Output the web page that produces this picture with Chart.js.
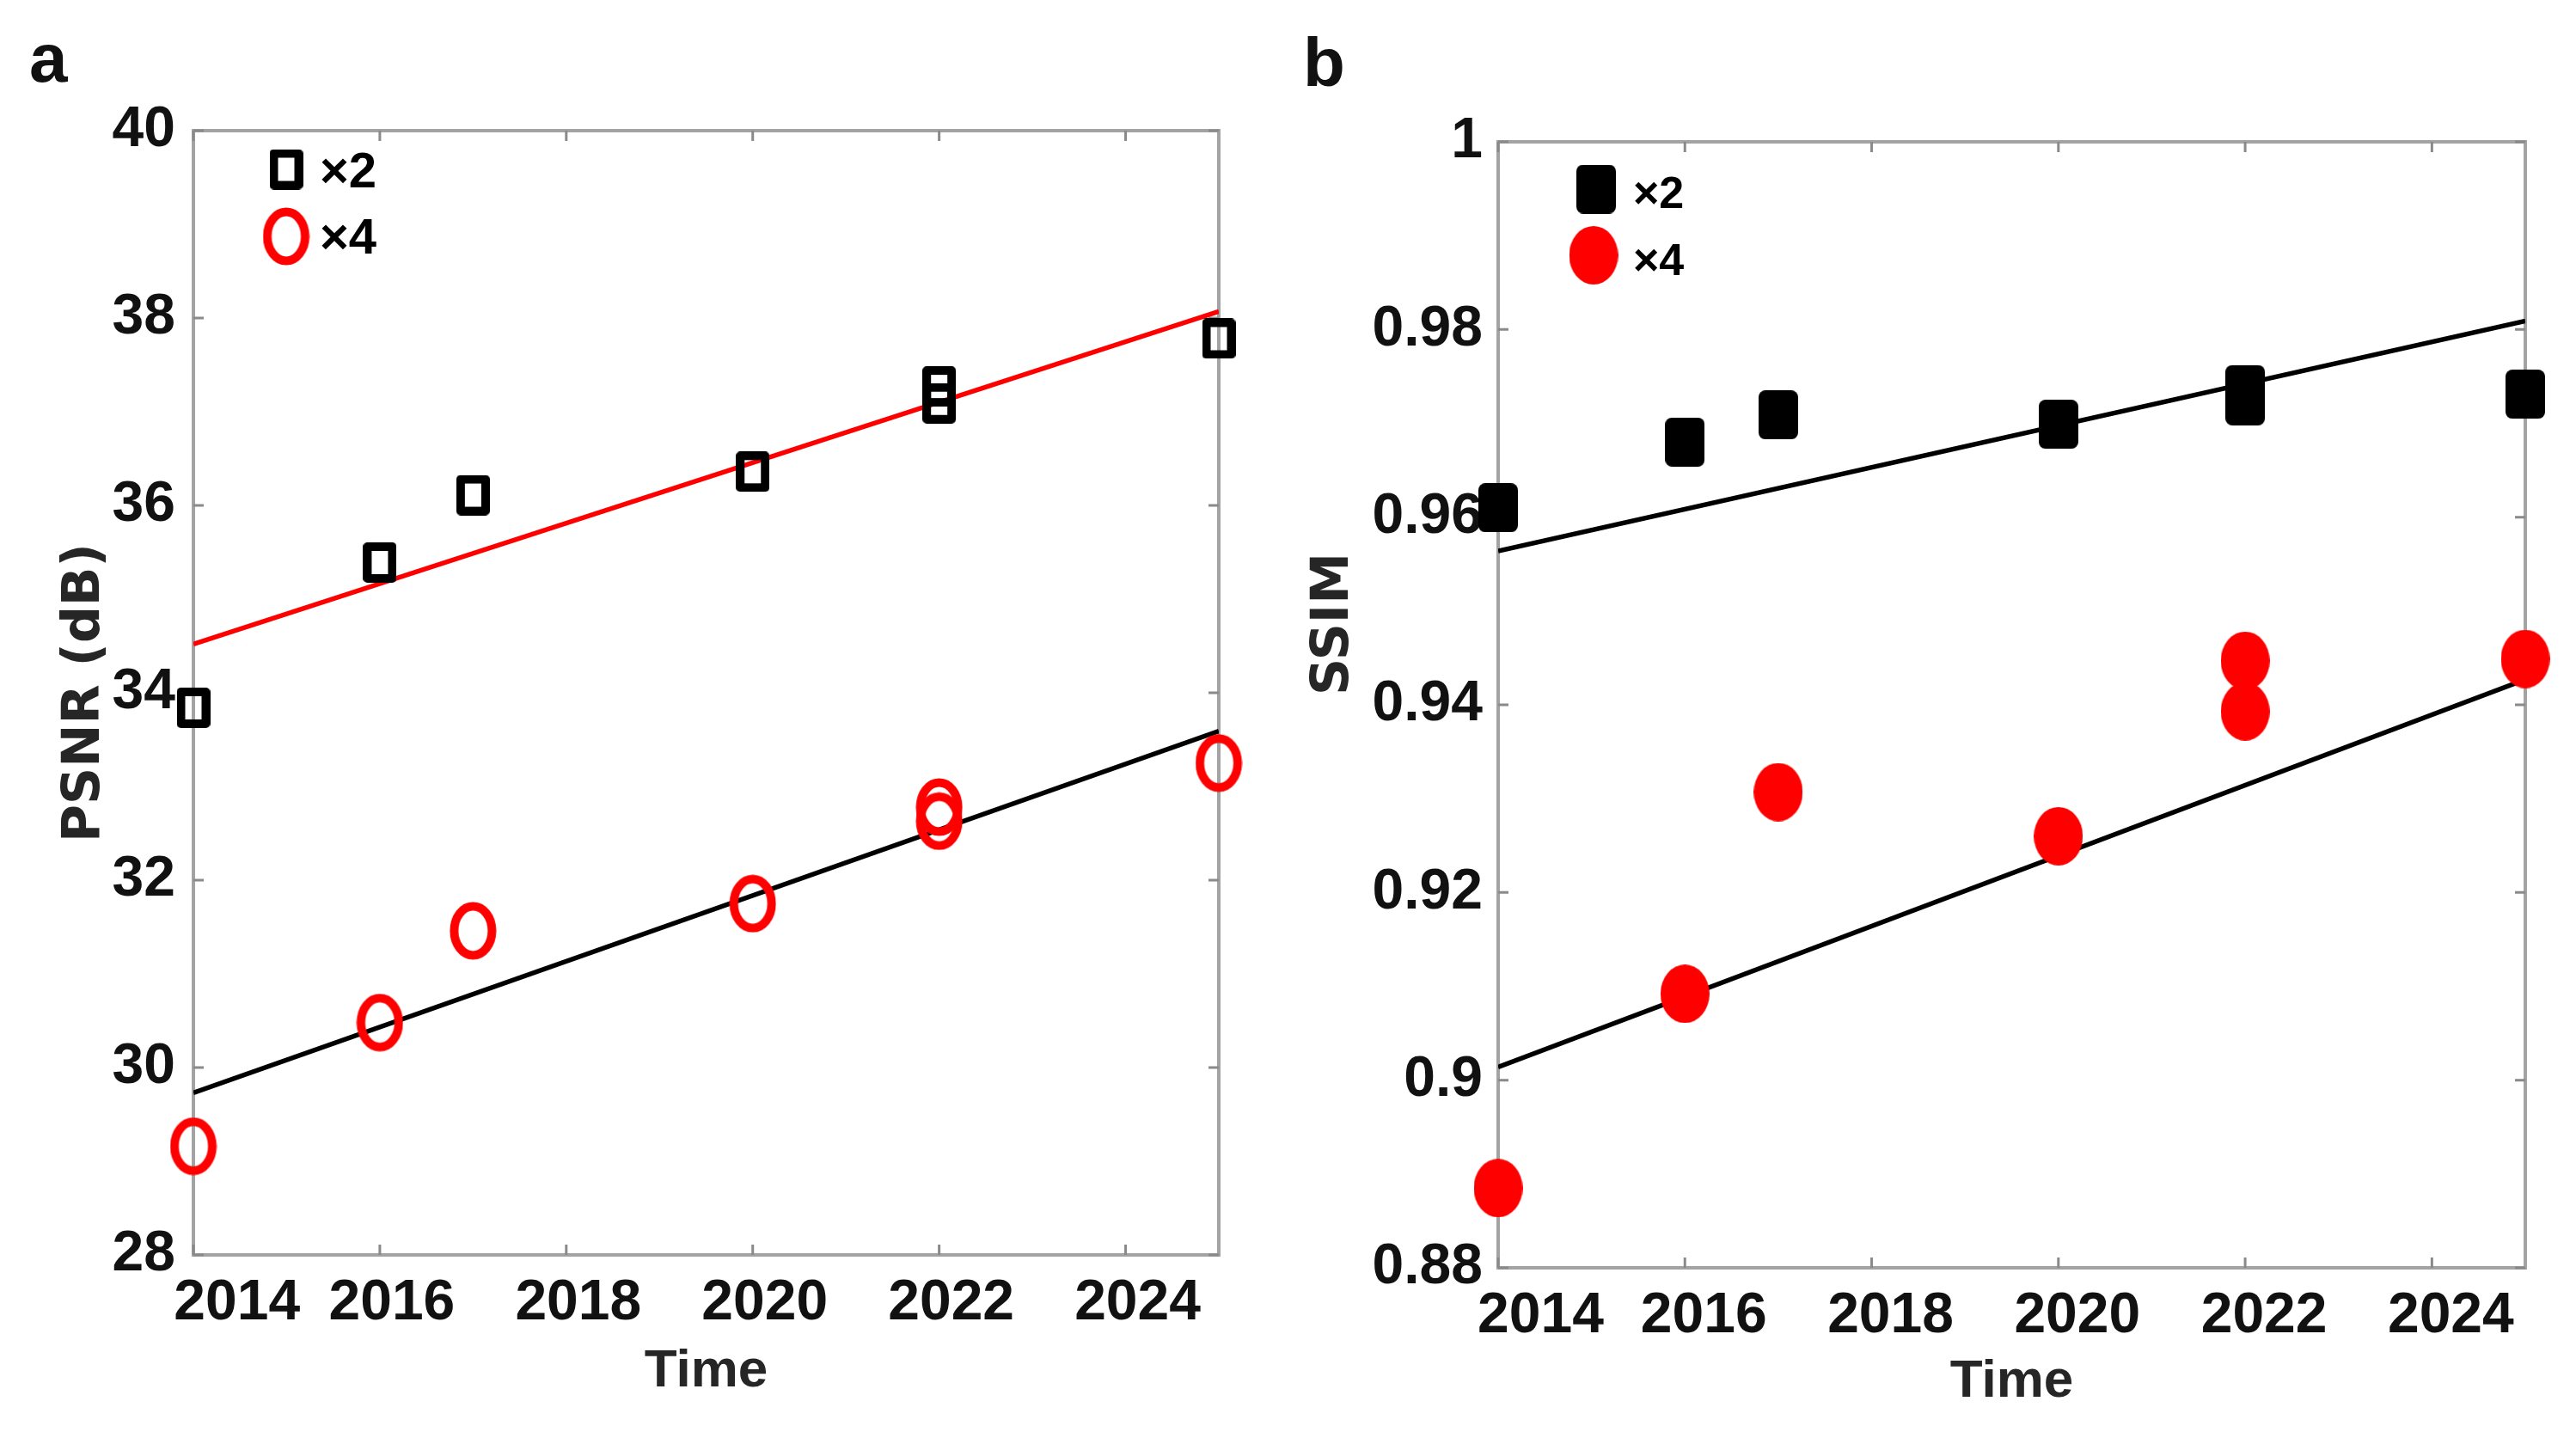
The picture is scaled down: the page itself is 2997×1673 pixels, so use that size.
<!DOCTYPE html>
<html>
<head>
<meta charset="utf-8">
<script src="https://cdn.jsdelivr.net/npm/chart.js@4.4.1/dist/chart.umd.min.js"></script>
<style>
  html, body { margin: 0; padding: 0; background: #ffffff; }
  #wrap { position: relative; width: 2997px; height: 1673px; background: #ffffff; overflow: hidden; }
  canvas { position: absolute; top: 0; }
  #ca { left: 0; }
  #cb { left: 1500px; }
</style>
</head>
<body>
<div id="wrap">
  <canvas id="ca" width="1500" height="1673"></canvas>
  <canvas id="cb" width="1497" height="1673"></canvas>
</div>
<script>
// ---------------- data ----------------
const years      = [2014, 2016, 2017, 2020, 2022, 2022, 2025];
const psnrX2     = [33.84, 35.39, 36.11, 36.36, 37.27, 37.09, 37.78];
const psnrX4     = [29.16, 30.48, 31.46, 31.75, 32.78, 32.63, 33.25];
const ssimX2     = [0.9610, 0.9680, 0.9709, 0.9699, 0.9736, 0.9724, 0.9731];
const ssimX4     = [0.8885, 0.9092, 0.9307, 0.9260, 0.9447, 0.9393, 0.9449];
const fitYears   = [2014, 2025];
const psnrFitUp  = [34.52, 38.07];   // red line (upper, panel a)
const psnrFitLow = [29.73, 33.59];   // black line (lower, panel a)
const ssimFitUp  = [0.9564, 0.9809]; // black line (upper, panel b)
const ssimFitLow = [0.9014, 0.9427]; // black line (lower, panel b)
const xTicks     = [2014, 2016, 2018, 2020, 2022, 2024];
const psnrTicks  = [28, 30, 32, 34, 36, 38, 40];
const ssimTicks  = [0.88, 0.90, 0.92, 0.94, 0.96, 0.98, 1.00];
const seriesNames = ['×2', '×4'];

// ---------------- marker images ----------------
function makeMarker(w, h, draw) {
  const c = document.createElement('canvas');
  c.width = w; c.height = h;
  draw(c.getContext('2d'), w, h);
  return c;
}
const hollowSquare = makeMarker(39, 47, (g, w, h) => {
  g.strokeStyle = '#000'; g.lineWidth = 10; g.lineJoin = 'round';
  g.strokeRect(5, 5, w - 10, h - 10);
});
const hollowCircle = makeMarker(55, 68, (g, w, h) => {
  g.strokeStyle = '#ff0000'; g.lineWidth = 10;
  g.beginPath(); g.ellipse(w / 2, h / 2, w / 2 - 5.5, h / 2 - 5.5, 0, 0, Math.PI * 2); g.stroke();
});
const filledSquare = makeMarker(46, 57, (g, w, h) => {
  g.fillStyle = '#000';
  g.beginPath();
  if (g.roundRect) g.roundRect(0, 0, w, h, 8); else g.rect(0, 0, w, h);
  g.fill();
});
const filledCircle = makeMarker(57, 68, (g, w, h) => {
  g.fillStyle = '#ff0000';
  g.beginPath(); g.ellipse(w / 2, h / 2, w / 2, h / 2, 0, 0, Math.PI * 2); g.fill();
});

const pts = (xs, ys) => xs.map((x, i) => ({ x: x, y: ys[i] }));

// ---------------- plugins ----------------
function boxPlugin() {
  return {
    id: 'matlabBox',
    beforeDatasetsDraw(chart) {
      const { ctx, chartArea: a, scales } = chart;
      ctx.save();
      ctx.strokeStyle = '#a3a3a3';
      ctx.lineWidth = 4;
      ctx.strokeRect(a.left, a.top, a.right - a.left, a.bottom - a.top);
      ctx.strokeStyle = '#8a8a8a';
      ctx.lineWidth = 3;
      const tl = 12;
      ctx.beginPath();
      scales.x.ticks.forEach(t => {
        const px = scales.x.getPixelForValue(t.value);
        ctx.moveTo(px, a.bottom); ctx.lineTo(px, a.bottom - tl);
        ctx.moveTo(px, a.top); ctx.lineTo(px, a.top + tl);
      });
      scales.y.ticks.forEach(t => {
        const py = scales.y.getPixelForValue(t.value);
        ctx.moveTo(a.left, py); ctx.lineTo(a.left + tl, py);
        ctx.moveTo(a.right, py); ctx.lineTo(a.right - tl, py);
      });
      ctx.stroke();
      ctx.restore();
    }
  };
}
function legendPlugin(cfg) {
  return {
    id: 'innerLegend',
    afterDraw(chart) {
      const ctx = chart.ctx;
      ctx.save();
      cfg.items.forEach(it => {
        ctx.drawImage(it.img, it.mx - it.img.width / 2, it.my - it.img.height / 2);
        ctx.fillStyle = '#000';
        ctx.font = 'bold ' + cfg.fontSize + 'px "Liberation Sans", Arial, sans-serif';
        ctx.textBaseline = 'alphabetic';
        ctx.textAlign = 'left';
        ctx.fillText(it.text, cfg.textX, it.base);
      });
      ctx.font = 'bold 80px "Liberation Sans", Arial, sans-serif';
      ctx.fillStyle = '#111';
      ctx.fillText(cfg.panel, cfg.panelX, cfg.panelY);
      ctx.restore();
    }
  };
}

const tickFont = { family: '"Liberation Sans", Arial, sans-serif', size: 66, weight: 'bold' };
const xTitleFont = { family: '"Liberation Sans", Arial, sans-serif', size: 62, weight: 'bold' };
const yTitleFont = { family: '"DejaVu Sans", sans-serif', size: 60, weight: 'bold' };

function makeChart(id, o) {
  return new Chart(document.getElementById(id), {
    type: 'scatter',
    data: { datasets: o.datasets },
    options: {
      responsive: false,
      animation: false,
      devicePixelRatio: 1,
      layout: { padding: { top: o.padTop, right: o.padRight, left: 0, bottom: 0 } },
      plugins: { legend: { display: false }, tooltip: { enabled: false } },
      scales: {
        x: {
          type: 'linear', min: 2014, max: 2025,
          afterBuildTicks: s => { s.ticks = xTicks.map(v => ({ value: v })); },
          afterFit: s => { s.height = o.xHeight; },
          grid: { display: false, drawTicks: false },
          border: { display: false },
          ticks: {
            includeBounds: false, autoSkip: false, maxRotation: 0,
            padding: 17, labelOffset: o.labelOffset,
            font: tickFont, color: '#111',
            callback: v => (v === 2014 ? o.firstPad + '2014' : String(v))
          },
          title: { display: true, text: 'Time', font: xTitleFont, color: '#262626',
                   padding: { top: 0, bottom: o.xTitlePad } }
        },
        y: {
          type: 'linear', min: o.yMin, max: o.yMax,
          afterBuildTicks: s => { s.ticks = o.yTicks.map(v => ({ value: v })); },
          afterFit: s => { s.width = o.yWidth; },
          grid: { display: false, drawTicks: false },
          border: { display: false },
          ticks: {
            includeBounds: false, autoSkip: false,
            padding: o.yPad, font: tickFont, color: '#111',
            callback: v => String(+(+v).toFixed(2))
          },
          title: { display: true, text: o.yTitle, font: yTitleFont, color: '#262626',
                   padding: { top: o.yTitlePad, bottom: 0 } }
        }
      }
    },
    plugins: [boxPlugin(), legendPlugin(o.legend)]
  });
}

// ---------------- panel a ----------------
makeChart('ca', {
  padTop: 152, padRight: 82, xHeight: 213, yWidth: 225, yPad: 21,
  yMin: 28, yMax: 40, yTicks: psnrTicks, yTitle: 'PSNR (dB)', yTitlePad: 63,
  labelOffset: 14, firstPad: '    ', xTitlePad: 40,
  legend: {
    fontSize: 58, textX: 372, panel: 'a', panelX: 34, panelY: 95,
    items: [
      { img: hollowSquare, mx: 333, my: 197, text: seriesNames[0], base: 218 },
      { img: hollowCircle, mx: 333, my: 275, text: seriesNames[1], base: 295 }
    ]
  },
  datasets: [
    { label: seriesNames[0], data: pts(years, psnrX2), pointStyle: hollowSquare, pointRadius: 20, clip: false, order: 0 },
    { label: seriesNames[1], data: pts(years, psnrX4), pointStyle: hollowCircle, pointRadius: 20, clip: false, order: 1 },
    { label: 'fit ×2', data: pts(fitYears, psnrFitUp), showLine: true, borderColor: '#ff0000', borderWidth: 5.5, pointRadius: 0, order: 2 },
    { label: 'fit ×4', data: pts(fitYears, psnrFitLow), showLine: true, borderColor: '#000000', borderWidth: 5.5, pointRadius: 0, order: 3 }
  ]
});

// ---------------- panel b ----------------
makeChart('cb', {
  padTop: 165, padRight: 59, xHeight: 198, yWidth: 243, yPad: 18,
  yMin: 0.88, yMax: 1.0, yTicks: ssimTicks, yTitle: '         SSIM', yTitlePad: 16,
  labelOffset: 22, firstPad: '   ', xTitlePad: 28,
  legend: {
    fontSize: 52, textX: 400, panel: 'b', panelX: 16, panelY: 100,
    items: [
      { img: filledSquare, mx: 357, my: 220, text: seriesNames[0], base: 242 },
      { img: filledCircle, mx: 354, my: 297, text: seriesNames[1], base: 320 }
    ]
  },
  datasets: [
    { label: seriesNames[0], data: pts(years, ssimX2), pointStyle: filledSquare, pointRadius: 20, clip: false, order: 0 },
    { label: seriesNames[1], data: pts(years, ssimX4), pointStyle: filledCircle, pointRadius: 20, clip: false, order: 1 },
    { label: 'fit ×2', data: pts(fitYears, ssimFitUp), showLine: true, borderColor: '#000000', borderWidth: 5.5, pointRadius: 0, order: 2 },
    { label: 'fit ×4', data: pts(fitYears, ssimFitLow), showLine: true, borderColor: '#000000', borderWidth: 5.5, pointRadius: 0, order: 3 }
  ]
});
</script>
</body>
</html>
